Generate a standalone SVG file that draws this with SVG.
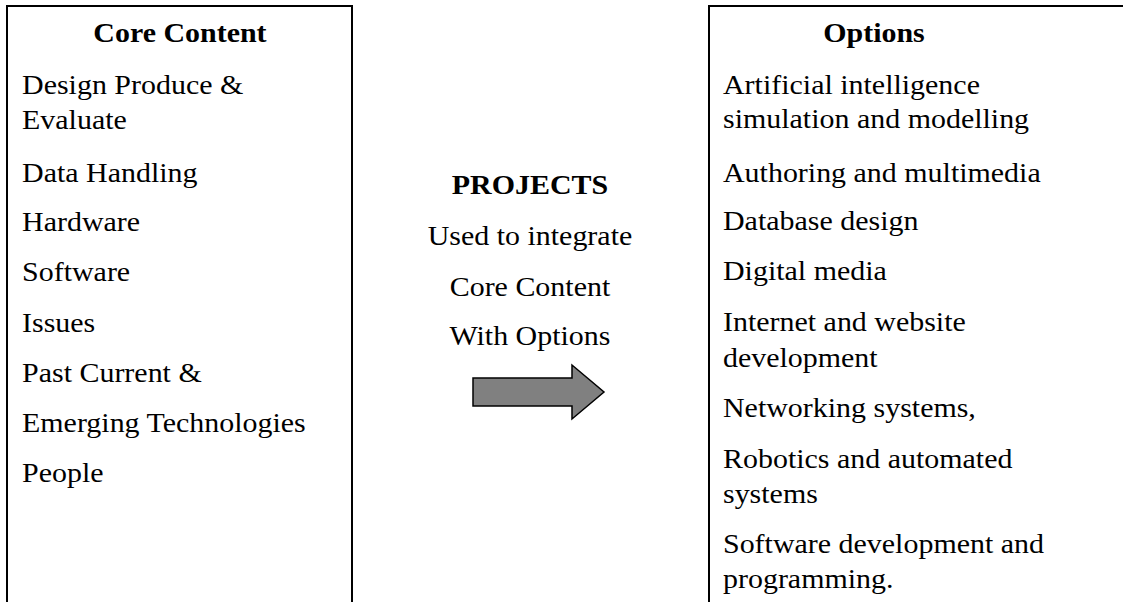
<svg xmlns="http://www.w3.org/2000/svg" width="1123" height="602" viewBox="0 0 1123 602">
  <style>
    .t { font-family: "Liberation Serif", "Times New Roman", serif; font-size: 28px; fill: #000; }
    .b { font-weight: bold; }
    .c { text-anchor: middle; }
    .box { fill: none; stroke: #000; stroke-width: 2; }
  </style>
  <rect width="1123" height="602" fill="#fff"/>
  <g id="core-content">
    <polyline class="box" points="7,602 7,6 352,6 352,602"/>
    <g transform="matrix(1.07,0,0,1,0,0)">
      <text class="t b c" x="168.2" y="42">Core Content</text>
      <text class="t" x="20.6" y="94">Design Produce &amp;</text>
      <text class="t" x="20.6" y="129">Evaluate</text>
      <text class="t" x="20.6" y="182">Data Handling</text>
      <text class="t" x="20.6" y="231">Hardware</text>
      <text class="t" x="20.6" y="281">Software</text>
      <text class="t" x="20.6" y="332">Issues</text>
      <text class="t" x="20.6" y="382">Past Current &amp;</text>
      <text class="t" x="20.6" y="432">Emerging Technologies</text>
      <text class="t" x="20.6" y="482">People</text>
    </g>
  </g>
  <g id="projects">
    <g transform="matrix(1.07,0,0,1,0,0)">
      <text class="t b c" x="495.3" y="194">PROJECTS</text>
      <text class="t c" x="495.3" y="245">Used to integrate</text>
      <text class="t c" x="495.3" y="296">Core Content</text>
      <text class="t c" x="495.3" y="345">With Options</text>
    </g>
  </g>
  <g id="options">
    <polyline class="box" points="709,602 709,6 1123,6"/>
    <g transform="matrix(1.07,0,0,1,0,0)">
      <text class="t b c" x="816.8" y="42">Options</text>
      <text class="t" x="675.7" y="94">Artificial intelligence</text>
      <text class="t" x="675.7" y="128">simulation and modelling</text>
      <text class="t" x="675.7" y="182">Authoring and multimedia</text>
      <text class="t" x="675.7" y="230">Database design</text>
      <text class="t" x="675.7" y="280">Digital media</text>
      <text class="t" x="675.7" y="331">Internet and website</text>
      <text class="t" x="675.7" y="367">development</text>
      <text class="t" x="675.7" y="417">Networking systems,</text>
      <text class="t" x="675.7" y="468">Robotics and automated</text>
      <text class="t" x="675.7" y="503">systems</text>
      <text class="t" x="675.7" y="553">Software development and</text>
      <text class="t" x="675.7" y="588">programming.</text>
    </g>
  </g>
  <g id="connectors">
    <polygon points="473,378 572,378 572,365 604,392 572,419 572,406 473,406" fill="#808080" stroke="#000" stroke-width="1.5" stroke-linejoin="miter"/>
  </g>
</svg>
